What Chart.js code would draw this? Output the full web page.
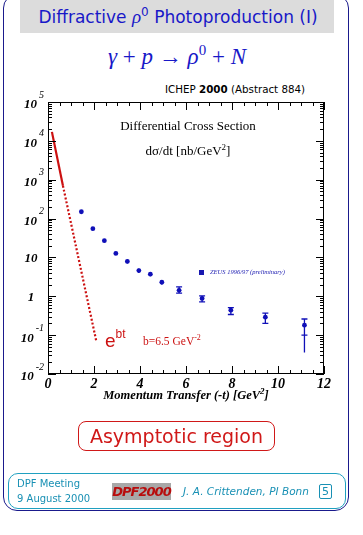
<!DOCTYPE html>
<html>
<head>
<meta charset="utf-8">
<script src="https://cdn.jsdelivr.net/npm/chart.js@4.4.0/dist/chart.umd.min.js"></script>
<style>
  html, body { margin: 0; padding: 0; background: #fff; }
  body { width: 363px; height: 535px; position: relative; overflow: hidden; }
  .abs { position: absolute; white-space: nowrap; }
  #frame { left: 3px; top: -6px; width: 344px; height: 515px; border: 1.5px solid #1a1a8c; border-radius: 14px; }
  #titlebox { left: 20px; top: 0; width: 314px; height: 33px; background: #dcdcdc; }
  #title { left: 0; top: 5px; width: 356px; text-align: center; font: 17px "DejaVu Sans", Verdana, sans-serif; color: #1818c8; }
  #eq { left: 0; top: 42px; width: 354px; text-align: center; font: italic 23px "Liberation Serif", serif; color: #1818c8; }
  #ichep { left: 165px; top: 83px; font: 10.3px "DejaVu Sans", sans-serif; color: #000; }
  .serif { font-family: "Liberation Serif", "Times New Roman", serif; }
  #dcs { left: 108px; top: 118px; width: 160px; text-align: center; font-size: 13px; }
  #dsdt { left: 108px; top: 142px; width: 160px; text-align: center; font-size: 13px; }
  #ebt { left: 105px; top: 327px; color: #cc1111; font: 19px "Liberation Sans", sans-serif; }
  #ebt sup { font-size: 12px; vertical-align: 9px; }
  #bval { left: 143px; top: 333px; color: #cc1111; font-size: 11.5px; }
  #legend { left: 199px; top: 268px; color: #1818b0; font: italic 6.5px "Liberation Serif", serif; }
  #legend span.sq { display: inline-block; width: 5px; height: 5px; background: #1818b0; margin-right: 6px; vertical-align: -1px; }
  #xtitle { left: 48px; top: 386px; width: 276px; text-align: center; font: bold italic 12.5px "Liberation Serif", serif; color: #000; }
  #asym { left: 78px; top: 421px; width: 195px; height: 28px; border: 1.3px solid #d01818; border-radius: 8px; text-align: center; font: 19px "DejaVu Sans", sans-serif; color: #d01818; line-height: 28px; }
  #foot { left: 8px; top: 473px; width: 336px; height: 34px; border: 1.3px solid #20a0c0; border-radius: 10px; }
  .teal { color: #1890b4; font: 10px "DejaVu Sans", sans-serif; }
  #logo { left: 112px; top: 483px; width: 59px; height: 17px; background: #a8a8a8; color: #b80c0c; font: bold italic 13px "DejaVu Sans", sans-serif; text-align: center; line-height: 17px; letter-spacing: -1px; }
  #num { left: 319px; top: 484px; width: 11px; height: 13px; border: 1px solid #1890b4; border-radius: 2px; text-align: center; line-height: 13px; font-size: 11px; }
</style>
</head>
<body>
<div id="frame" class="abs"></div>
<div id="titlebox" class="abs"></div>
<div id="title" class="abs">Diffractive <i class="serif" style="font-size:19px">ρ</i><sup style="font-size:12px">0</sup> Photoproduction (I)</div>
<div id="eq" class="abs">γ <span style="font-style:normal">+</span> p <span style="font-style:normal">→</span> ρ<sup style="font-style:normal;font-size:15px">0</sup> <span style="font-style:normal">+</span> N</div>
<div id="ichep" class="abs">ICHEP <b>2000</b> (Abstract 884)</div>
<canvas id="chart" width="363" height="535" class="abs" style="left:0;top:0"></canvas>
<div id="dcs" class="abs serif">Differential Cross Section</div>
<div id="dsdt" class="abs serif">dσ/dt [nb/GeV<sup style="font-size:9px">2</sup>]</div>
<div id="legend" class="abs"><span class="sq"></span>ZEUS 1996/97 (preliminary)</div>
<div id="ebt" class="abs">e<sup>bt</sup></div>
<div id="bval" class="abs serif">b=6.5 GeV<sup style="font-size:8px">-2</sup></div>
<div id="xtitle" class="abs">Momentum Transfer (-t) [GeV<sup style="font-size:9px">2</sup>]</div>
<div id="asym" class="abs">Asymptotic region</div>
<div id="foot" class="abs"></div>
<div class="abs teal" style="left:17px;top:478px">DPF Meeting</div>
<div class="abs teal" style="left:17px;top:493px">9 August 2000</div>
<div id="logo" class="abs">DPF2000</div>
<div class="abs teal" style="left:183px;top:485px;font-style:italic;font-size:10.5px">J. A. Crittenden, PI Bonn</div>
<div id="num" class="abs teal">5</div>

<script>
// Dữ liệu ZEUS 1996/97: -t [GeV^2] và dσ/dt [nb/GeV^2]
const tValues = [1.45, 1.95, 2.45, 2.95, 3.45, 3.95, 4.45, 4.95, 5.7, 6.7, 7.95, 9.45, 11.15];
const dsdt    = [150, 55, 27, 12.7, 7.9, 4.6, 3.7, 2.3, 1.42, 0.88, 0.44, 0.29, 0.18];
const errLow  = [135, 50, 24.5, 11.5, 7.0, 4.0, 3.3, 2.0, 1.2, 0.72, 0.34, 0.2, 0.1];
const errHigh = [165, 60, 29.5, 14, 8.8, 5.2, 4.1, 2.6, 1.75, 1.02, 0.51, 0.37, 0.26];
const totLow  = [135, 50, 24.5, 11.5, 7.0, 4.0, 3.3, 2.0, 1.2, 0.72, 0.34, 0.2, 0.036];

// Đường e^{bt} với b = 6.5 GeV^-2 (điểm)
const fitT    = [0.17, 0.65, 2.1];
const fitY    = [17000, 700, 0.07];

// Nhãn trục
const xTicks  = [0, 2, 4, 6, 8, 10, 12];
const yExps   = [5, 4, 3, 2, 1, 0, -1, -2];

const blue = '#1010b8';
const red = '#cc1111';

// Plugin vẽ khung, vạch chia và nhãn trục (vạch hướng vào trong)
const axesPlugin = {
    id: 'axes',
    afterDatasetsDraw(chart) {
        const ctx = chart.ctx;
        const xs = chart.scales.x, ys = chart.scales.y;
        const a = chart.chartArea;
        ctx.save();
        ctx.strokeStyle = '#000';
        ctx.lineWidth = 1;
        ctx.strokeRect(a.left + 0.5, a.top + 0.5, a.right - a.left - 1, a.bottom - a.top - 1);
        ctx.beginPath();
        for (let v = 0; v <= 12.001; v += 0.5) {
            const px = Math.round(xs.getPixelForValue(v)) + 0.5;
            const len = (v % 2 === 0) ? 8 : 4;
            ctx.moveTo(px, a.bottom); ctx.lineTo(px, a.bottom - len);
            ctx.moveTo(px, a.top); ctx.lineTo(px, a.top + len);
        }
        for (let e = -2; e <= 5; e++) {
            for (let m = 1; m <= 9; m++) {
                const v = m * Math.pow(10, e);
                if (v > 1e5 * 1.0001) break;
                const py = Math.round(ys.getPixelForValue(v)) + 0.5;
                const len = (m === 1) ? 8 : 4;
                ctx.moveTo(a.left, py); ctx.lineTo(a.left + len, py);
                ctx.moveTo(a.right, py); ctx.lineTo(a.right - len, py);
            }
        }
        ctx.stroke();

        // Nhãn trục x
        ctx.fillStyle = '#000';
        ctx.font = 'bold italic 14px "Liberation Serif", serif';
        ctx.textAlign = 'center';
        ctx.textBaseline = 'top';
        xTicks.forEach(v => ctx.fillText(String(v), xs.getPixelForValue(v), a.bottom + 3));

        // Nhãn trục y: 10^n
        ctx.textBaseline = 'middle';
        yExps.forEach(e => {
            const py = ys.getPixelForValue(Math.pow(10, e));
            if (e === 0 || e === 1) {
                ctx.font = 'bold italic 13px "Liberation Serif", serif';
                ctx.textAlign = 'center';
                ctx.fillText(e === 0 ? '1' : '10', 31, py + 1);
            } else {
                const sup = String(e);
                ctx.font = 'italic 10px "Liberation Serif", serif';
                ctx.textAlign = 'right';
                ctx.fillText(sup, 44, py - 7);
                const w = ctx.measureText(sup).width;
                ctx.font = 'bold italic 13px "Liberation Serif", serif';
                ctx.fillText('10', 44 - w - 2, py + 3);
            }
        });

        // Thanh sai số
        ctx.strokeStyle = blue;
        ctx.lineWidth = 1.3;
        ctx.beginPath();
        tValues.forEach((t, i) => {
            const px = xs.getPixelForValue(t);
            const yl = ys.getPixelForValue(Math.min(errLow[i], totLow[i]));
            const yh = ys.getPixelForValue(errHigh[i]);
            ctx.moveTo(px, yl); ctx.lineTo(px, yh);
            if (errHigh[i] / errLow[i] > 1.35) {
                const c1 = ys.getPixelForValue(errHigh[i]);
                const c2 = ys.getPixelForValue(errLow[i]);
                ctx.moveTo(px - 3, c1); ctx.lineTo(px + 3, c1);
                ctx.moveTo(px - 3, c2); ctx.lineTo(px + 3, c2);
            }
        });
        ctx.stroke();
        ctx.restore();
    }
};

const ctx = document.getElementById('chart').getContext('2d');
new Chart(ctx, {
    type: 'scatter',
    data: {
        datasets: [
            {
                label: 'ZEUS 1996/97 (preliminary)',
                data: tValues.map((t, i) => ({ x: t, y: dsdt[i] })),
                pointStyle: 'circle',
                pointRadius: 2.4,
                backgroundColor: blue,
                borderColor: blue,
                borderWidth: 0
            },
            {
                label: 'e^bt',
                type: 'line',
                data: fitT.map((t, i) => ({ x: t, y: fitY[i] })),
                borderColor: red,
                borderWidth: 2.2,
                pointRadius: 0,
                segment: {
                    borderDash: c => c.p0DataIndex === 0 ? [] : [2, 2]
                }
            }
        ]
    },
    options: {
        responsive: false,
        animation: false,
        layout: { padding: { left: 48, right: 39, top: 102, bottom: 161 } },
        plugins: { legend: { display: false }, tooltip: { enabled: false } },
        scales: {
            x: { type: 'linear', min: 0, max: 12, display: false },
            y: { type: 'logarithmic', min: 0.01, max: 100000, display: false }
        }
    },
    plugins: [axesPlugin]
});
</script>
</body>
</html>
